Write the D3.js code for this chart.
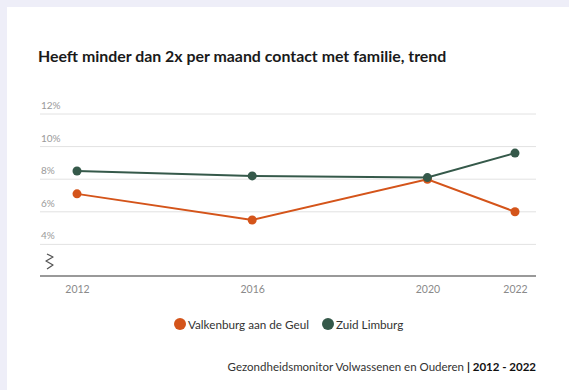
<!DOCTYPE html>
<html>
<head>
<meta charset="utf-8">
<script src="https://cdn.jsdelivr.net/npm/d3@7"></script>
<style>
  html, body { margin: 0; padding: 0; background: #eeeef8; }
  svg { display: block; }
</style>
</head>
<body>
<svg id="chart" width="569" height="390"></svg>
<script>
// Trend data: share with less than 2x per month contact with family
const years = [2012, 2016, 2020, 2022];
const valkenburg = [7.1, 5.5, 8.0, 6.0];
const zuidLimburg = [8.5, 8.2, 8.1, 9.6];
const yTicks = [4, 6, 8, 10, 12];
const seriesNames = ["Valkenburg aan de Geul", "Zuid Limburg"];
const seriesColors = ["#d4541a", "#35594a"];

const svg = d3.select("#chart");
const font = "Lato, 'Noto Sans', sans-serif";

// white card
svg.append("rect").attr("x", 7).attr("y", 7).attr("width", 562).attr("height", 383).attr("fill", "#ffffff");

// title
svg.append("text")
  .attr("x", 38).attr("y", 62)
  .attr("font-family", font).attr("font-weight", 700).attr("font-size", 15.9)
  .attr("fill", "#1a1a1a")
  .text("Heeft minder dan 2x per maand contact met familie, trend");

const x = d3.scaleLinear().domain([2012, 2022]).range([77, 515]);
const y = d3.scaleLinear().domain([2, 12]).range([277, 114]);

// horizontal gridlines with labels above
const grid = svg.append("g");
yTicks.forEach(t => {
  grid.append("line")
    .attr("x1", 40).attr("x2", 536)
    .attr("y1", y(t)).attr("y2", y(t))
    .attr("stroke", "#e2e2e2").attr("stroke-width", 1);
  grid.append("text")
    .attr("x", 41).attr("y", y(t) - 5)
    .attr("font-family", font).attr("font-size", 10)
    .attr("fill", "#9a9a9a")
    .text(t + "%");
});

// axis break marker
svg.append("path")
  .attr("d", "M47,254 L53,257 L46,261 L53,265 L47,269")
  .attr("fill", "none").attr("stroke", "#555").attr("stroke-width", 1.3)
  .attr("stroke-linejoin", "round");

// x axis
const xAxis = d3.axisBottom(x).tickValues(years).tickFormat(d3.format("d")).tickSize(0).tickPadding(10);
const gx = svg.append("g").attr("transform", `translate(0,${y(2) - 1})`).call(xAxis);
gx.select(".domain").attr("d", `M40,0H536`).attr("stroke", "#777").attr("stroke-width", 1.6);
gx.selectAll("text").attr("font-family", font).attr("font-size", 10.5).attr("fill", "#8a8a8a");

// series lines and points
const line = d3.line().x((d, i) => x(years[i])).y(d => y(d));
[valkenburg, zuidLimburg].forEach((vals, k) => {
  svg.append("path")
    .attr("d", line(vals))
    .attr("fill", "none").attr("stroke", seriesColors[k]).attr("stroke-width", 2);
  svg.selectAll(null).data(vals).enter().append("circle")
    .attr("cx", (d, i) => x(years[i])).attr("cy", d => y(d))
    .attr("r", 4.5).attr("fill", seriesColors[k]);
});

// legend
const legendX = [180, 328];
seriesNames.forEach((name, k) => {
  svg.append("circle").attr("cx", legendX[k]).attr("cy", 324).attr("r", 6).attr("fill", seriesColors[k]);
  svg.append("text")
    .attr("x", legendX[k] + 8).attr("y", 328.5)
    .attr("font-family", font).attr("font-size", 11.7).attr("fill", "#333")
    .text(name);
});

// source
const src = svg.append("text")
  .attr("x", 536).attr("y", 371).attr("text-anchor", "end")
  .attr("font-family", font).attr("font-size", 11.5).attr("fill", "#333");
src.append("tspan").text("Gezondheidsmonitor Volwassenen en Ouderen ");
src.append("tspan").attr("font-weight", 700).attr("fill", "#111").text("| 2012 - 2022");
</script>
</body>
</html>
